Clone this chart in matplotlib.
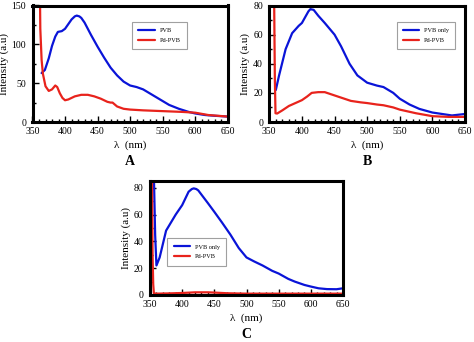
import matplotlib
matplotlib.use('Agg')
from matplotlib import pyplot as plt
from matplotlib.ticker import MultipleLocator

plt.rcParams['font.family'] = ['Liberation Serif', 'DejaVu Serif']

# Panel A
wl_a_pvb = [364, 369, 375, 380, 385, 389, 395, 400, 405, 410, 415, 418, 422, 425, 430, 440, 450, 460,
            470, 480, 490, 500, 510, 520, 530, 540, 550, 560, 575, 590, 600, 615, 630, 650]
a_pvb = [63, 67, 82, 98, 110, 116, 117, 120, 126, 132, 136, 137, 136, 134, 128, 112, 97, 83,
         70, 60, 52, 47, 45, 42, 37, 32, 27, 22, 17, 13, 11, 9, 8, 7]
wl_a_pd = [360, 361, 362, 364, 366, 370, 375, 380, 385, 388, 392, 396, 400, 405, 410, 415, 425, 435,
           445, 455, 465, 470, 473, 480, 490, 500, 520, 550, 580, 600, 620, 635, 650]
a_pd = [400, 200, 120, 80, 62, 46, 40, 42, 47, 45, 37, 31, 28, 29, 31, 33, 35, 35,
        33, 30, 26, 25, 25, 20, 17, 16, 15, 14, 13, 12, 9, 8, 7]

# Panel B
wl_b_pvb = [360, 365, 375, 385, 395, 400, 405, 410, 413, 418, 425, 435, 450, 460, 473, 485, 500, 515,
            525, 540, 550, 565, 580, 600, 615, 630, 650]
b_pvb = [22, 32, 50, 61, 66, 68, 72, 76, 77.5, 77, 73, 68, 60, 52, 40, 32, 27, 25,
         24, 20, 16, 12, 9, 6.5, 5.5, 4.5, 5.5]
wl_b_pd = [356.5, 357.5, 358.5, 359.5, 362, 370, 380, 390, 400, 408, 415, 425, 435, 445, 455, 465, 475,
           490, 500, 515, 525, 540, 550, 575, 600, 625, 650]
b_pd = [200, 80, 30, 6, 5.8, 8, 11, 13, 15, 17.5, 20, 20.5, 20.5, 19, 17.5, 16, 14.5,
        13.5, 13, 12, 11.5, 10, 8.5, 6, 4, 3.5, 3.5]

# Panel C
wl_c_pvb = [354, 356, 358, 360, 365, 375, 390, 400, 405, 410, 415, 418, 422, 425, 440, 450, 462, 475,
            488, 500, 512, 525, 540, 550, 565, 575, 590, 600, 612, 625, 640, 650]
c_pvb = [200, 90, 45, 22, 28, 48, 60, 67, 72, 77, 79, 79.5, 79, 78, 68.5, 62, 54, 45,
         35, 28, 25, 22, 18, 16, 12, 10, 7.5, 6.3, 5, 4.4, 4.3, 5]
wl_c_pd = [352, 353, 354, 355, 356, 360, 380, 400, 420, 440, 450, 470, 500, 550, 600, 650]
c_pd = [300, 90, 30, 8, 1.2, 1.0, 1.2, 1.5, 2.0, 2.0, 1.8, 1.3, 1.0, 1.0, 1.0, 1.0]

blue = '#0a14d8'
red = '#e8231c'

fig = plt.figure(figsize=(4.74, 3.42), dpi=100)


def setup(ax, ymax, ymajor, yminor, label, label_y):
    ax.set_xlim(350, 650)
    ax.set_ylim(0, ymax)
    ax.xaxis.set_major_locator(MultipleLocator(50))
    ax.xaxis.set_minor_locator(MultipleLocator(10))
    ax.yaxis.set_major_locator(MultipleLocator(ymajor))
    ax.yaxis.set_minor_locator(MultipleLocator(yminor))
    ax.tick_params(which='both', direction='in', top=False, right=False, labelsize=7)
    ax.tick_params(axis='x', pad=3.5)
    ax.tick_params(axis='y', pad=4.5)
    ax.tick_params(which='major', length=4, width=1)
    ax.tick_params(which='minor', length=2.5, width=1)
    for s in ax.spines.values():
        s.set_linewidth(2.2)
    ax.set_xlabel(u'\u03bb  (nm)', fontsize=8, labelpad=3)
    ax.set_ylabel('Intensity (a.u)', fontsize=8, labelpad=2)
    ax.text(0.5, label_y, label, transform=ax.transAxes, ha='center', va='center',
            fontsize=10, fontweight='bold')


def legend(ax, anchor):
    leg = ax.legend(loc='upper left', bbox_to_anchor=anchor, fontsize=4.5, frameon=True,
                    fancybox=False, handlelength=2.6, handletextpad=0.8, borderpad=1.0,
                    labelspacing=0.7, borderaxespad=0)
    leg.get_frame().set_edgecolor('#888888')
    leg.get_frame().set_linewidth(0.8)


W, H = 474.0, 342.0
kw = dict(lw=1.6, solid_joinstyle='round', solid_capstyle='round')

# A
ax1 = fig.add_axes([32.5 / W, (H - 122) / H, 195.2 / W, 116.5 / H])
ax1.plot(wl_a_pvb, a_pvb, color=blue, label='PVB', **kw)
ax1.plot(wl_a_pd, a_pd, color=red, label='Pd-PVB', **kw)
setup(ax1, 150, 50, 25, 'A', -0.34)
legend(ax1, (0.51, 0.86))

# B
ax2 = fig.add_axes([269.3 / W, (H - 122) / H, 195.7 / W, 116.5 / H])
ax2.plot(wl_b_pvb, b_pvb, color=blue, label='PVB only', **kw)
ax2.plot(wl_b_pd, b_pd, color=red, label='Pd-PVB', **kw)
setup(ax2, 80, 20, 10, 'B', -0.34)
legend(ax2, (0.65, 0.86))

# C
ax3 = fig.add_axes([150 / W, (H - 295) / H, 193 / W, 114 / H])
ax3.plot(wl_c_pvb, c_pvb, color=blue, label='PVB only', **kw)
ax3.plot(wl_c_pd, c_pd, color=red, label='Pd-PVB', **kw)
setup(ax3, 85, 20, 10, 'C', -0.35)
legend(ax3, (0.09, 0.50))

fig.savefig('out.png', dpi=100)
